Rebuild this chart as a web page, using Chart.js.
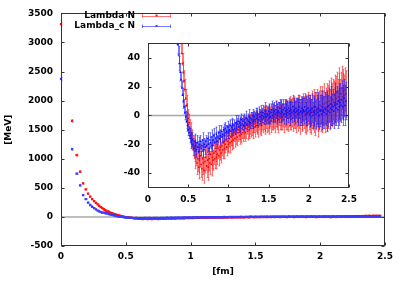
<!DOCTYPE html>
<html>
<head>
<meta charset="utf-8">
<script src="https://cdn.jsdelivr.net/npm/chart.js@4"></script>
<style>
  body { margin: 0; background: #fff; }
  #wrap { position: relative; width: 398px; height: 283px; }
  #mainChart { position: absolute; left: 0; top: 0; }
  #insetChart { position: absolute; left: 118px; top: 30px; }
</style>
</head>
<body>
<div id="wrap">
  <canvas id="mainChart" width="398" height="283"></canvas>
  <canvas id="insetChart" width="246" height="180"></canvas>
</div>
<script>
// distances in fm (shared by both series)
var rFm = [0, 0.085, 0.120, 0.147, 0.170, 0.190, 0.208, 0.225, 0.240, 0.255, 0.269, 0.282, 0.294, 0.306, 0.318, 0.330, 0.340, 0.350,
  0.36, 0.37, 0.38, 0.39, 0.40, 0.41, 0.42, 0.43, 0.44, 0.45, 0.46, 0.47, 0.48, 0.49, 0.50,
  0.51, 0.52, 0.53, 0.54, 0.55, 0.56, 0.57, 0.58, 0.59, 0.60,
  0.61, 0.62, 0.63, 0.64, 0.65, 0.66, 0.67, 0.68, 0.69, 0.70,
  0.71, 0.72, 0.73, 0.74, 0.75, 0.76, 0.77, 0.78, 0.79, 0.80,
  0.81, 0.82, 0.83, 0.84, 0.85, 0.86, 0.87, 0.88, 0.89, 0.90,
  0.91, 0.92, 0.93, 0.94, 0.95, 0.96, 0.97, 0.98, 0.99, 1.00,
  1.01, 1.02, 1.03, 1.04, 1.05, 1.06, 1.07, 1.08, 1.09, 1.10,
  1.11, 1.12, 1.13, 1.14, 1.15, 1.16, 1.17, 1.18, 1.19, 1.20,
  1.21, 1.22, 1.23, 1.24, 1.25, 1.26, 1.27, 1.28, 1.29, 1.30,
  1.31, 1.32, 1.33, 1.34, 1.35, 1.36, 1.37, 1.38, 1.39, 1.40,
  1.41, 1.42, 1.43, 1.44, 1.45, 1.46, 1.47, 1.48, 1.49, 1.50,
  1.51, 1.52, 1.53, 1.54, 1.55, 1.56, 1.57, 1.58, 1.59, 1.60,
  1.61, 1.62, 1.63, 1.64, 1.65, 1.66, 1.67, 1.68, 1.69, 1.70,
  1.71, 1.72, 1.73, 1.74, 1.75, 1.76, 1.77, 1.78, 1.79, 1.80,
  1.81, 1.82, 1.83, 1.84, 1.85, 1.86, 1.87, 1.88, 1.89, 1.90,
  1.91, 1.92, 1.93, 1.94, 1.95, 1.96, 1.97, 1.98, 1.99, 2.00,
  2.01, 2.02, 2.03, 2.04, 2.05, 2.06, 2.07, 2.08, 2.09, 2.10,
  2.11, 2.12, 2.13, 2.14, 2.15, 2.16, 2.17, 2.18, 2.19, 2.20,
  2.21, 2.22, 2.23, 2.24, 2.25, 2.26, 2.27, 2.28, 2.29, 2.30,
  2.31, 2.32, 2.33, 2.34, 2.35, 2.36, 2.37, 2.38, 2.39, 2.40,
  2.41, 2.42, 2.43, 2.44, 2.45, 2.46];

// Lambda N potential [MeV]
var lambdaN = [3315, 1651, 1063, 777, 576, 475, 400, 350, 305, 270, 240, 215, 192, 170, 150, 132, 118, 106,
  95, 85, 75, 66, 58, 50, 43, 36, 30, 24, 18, 12, 7, 2, -2,
  -5, -9, -12, -16, -17, -21, -22, -25, -29, -27,
  -33, -30, -36, -31, -28, -34, -37, -30, -33, -38,
  -32, -29, -35, -31, -36, -30, -33, -27, -34, -29,
  -31, -26, -30, -25, -29, -27, -23, -28, -24, -22,
  -26, -21, -24, -19, -23, -20, -17, -22, -18, -20,
  -16, -19, -15, -18, -14, -17, -12, -16, -13, -11,
  -15, -12, -10, -14, -11, -13, -9, -12, -10, -8,
  -12, -9, -7, -11, -8, -10, -6, -9, -7, -5,
  -9, -6, -8, -4, -7, -5, -8, -3, -6, -4,
  -7, -3, -5, -2, -6, -4, -1, -5, -3, -2,
  -5, -1, -4, -2, 0, -3, -1, -4, 1, -2,
  0, -3, 1, -1, -2, 2, -1, 0, -3, 1,
  -1, 2, 0, -2, 1, 3, -1, 0, 2, -2,
  1, 3, 0, -1, 2, 4, 0, 1, -2, 3,
  1, -1, 4, 2, 0, 3, -2, 1, 5, 2,
  0, 3, -1, 4, 2, 6, 1, -2, 3, 5,
  2, -1, 4, 7, 3, 1, 6, 4, 8, 2,
  5, 9, 3, 6, 10, 4, 8, 12, 7, 11,
  9, 14, 8, 12, 16, 10, 13, 18, 11, 15,
  19, 13, 17, 14, 18, 15];
var lambdaNErr = [30, 20, 15, 12, 10, 10, 9, 9, 8, 8, 8, 8, 8, 8, 8, 8, 8, 8,
  8, 8, 8, 8, 8, 7, 8, 7, 7, 7, 7, 6, 7, 6, 6,
  6, 6, 7, 6, 7, 7, 8, 7, 8, 8,
  8, 9, 8, 9, 8, 9, 8, 9, 8, 9,
  8, 9, 8, 8, 9, 8, 8, 7, 8, 8,
  7, 8, 7, 7, 8, 7, 7, 7, 7, 7,
  7, 7, 6, 7, 7, 6, 7, 6, 7, 6,
  6, 7, 6, 6, 7, 6, 6, 6, 7, 6,
  6, 6, 7, 6, 6, 6, 7, 6, 6, 7,
  6, 7, 6, 6, 7, 6, 7, 6, 7, 7,
  7, 6, 7, 7, 6, 7, 7, 7, 7, 7,
  7, 7, 7, 8, 7, 7, 8, 7, 8, 7,
  8, 7, 8, 8, 8, 7, 8, 8, 9, 8,
  8, 9, 8, 9, 8, 9, 9, 8, 9, 9,
  9, 9, 10, 9, 9, 10, 9, 10, 10, 9,
  10, 10, 9, 11, 10, 10, 11, 10, 11, 10,
  11, 10, 11, 11, 12, 11, 11, 12, 11, 12,
  12, 11, 12, 13, 12, 12, 13, 12, 13, 13,
  13, 14, 13, 13, 14, 13, 14, 13, 14, 14,
  14, 13, 14, 15, 14, 14, 15, 14, 15, 14,
  15, 14, 15, 15, 14, 15, 16, 15, 14, 15,
  15, 16, 15, 14, 15, 16];

// Lambda_c N potential [MeV]
var lambdaCN = [2374, 1164, 743, 542, 374, 307, 245, 205, 175, 150, 128, 110, 96, 84, 74, 72, 65, 60,
  55, 49, 42, 36, 30, 25, 19, 14, 10, 6, 2, -1, -4, -7, -10,
  -12, -14, -16, -18, -17, -20, -23, -18, -21, -24,
  -19, -22, -25, -20, -18, -23, -21, -17, -24, -20,
  -22, -18, -21, -16, -20, -23, -17, -19, -15, -21,
  -17, -14, -19, -16, -13, -18, -15, -12, -16, -14,
  -11, -15, -13, -10, -14, -9, -12, -11, -8, -12,
  -10, -7, -11, -8, -6, -10, -7, -9, -5, -8,
  -6, -4, -8, -5, -7, -3, -6, -4, -7, -3,
  -5, -2, -6, -3, -4, -1, -5, -2, -3, 0,
  -4, -1, -3, 1, -2, 0, -3, 1, -1, 2,
  -2, 0, 2, -1, 1, 3, -1, 1, 0, 3,
  1, -1, 2, 4, 0, 2, 3, 1, 4, 2,
  0, 3, 2, 5, 1, 3, 2, 4, 1, 5,
  3, 1, 4, 2, 5, 3, 1, 4, 2, 6,
  3, 4, 2, 5, 3, 1, 4, 6, 2, 3,
  5, 2, 4, 3, 6, 1, 4, 2, 5, 3,
  1, 4, 2, 5, 0, 3, 2, 6, 1, 4,
  2, 5, 0, 3, 4, 1, 6, 3, 2, 5,
  4, 1, 6, 3, 7, 2, 5, 8, 4, 6,
  3, 7, 9, 5, 8, 4, 10, 6, 9, 7,
  11, 6, 9, 12, 7, 10];
var lambdaCNErr = [25, 15, 12, 10, 9, 8, 8, 7, 7, 7, 6, 6, 6, 6, 6, 6, 6, 6,
  6, 6, 6, 5, 6, 5, 5, 5, 5, 5, 5, 4, 5, 4, 4,
  4, 5, 4, 5, 5, 4, 5, 5, 4, 5,
  5, 4, 5, 5, 4, 5, 4, 5, 5, 4,
  5, 4, 5, 4, 5, 4, 5, 4, 5, 4,
  4, 5, 4, 4, 5, 4, 4, 5, 4, 4,
  4, 4, 5, 4, 4, 4, 5, 4, 4, 4,
  4, 4, 4, 5, 4, 4, 4, 4, 5, 4,
  4, 4, 4, 4, 5, 4, 4, 4, 4, 4,
  4, 5, 4, 4, 4, 5, 4, 4, 5, 4,
  5, 4, 5, 4, 5, 5, 4, 5, 5, 5,
  5, 5, 5, 5, 5, 6, 5, 5, 6, 5,
  6, 5, 6, 6, 5, 6, 6, 6, 6, 6,
  6, 6, 7, 6, 6, 7, 6, 7, 7, 6,
  7, 7, 6, 7, 7, 7, 8, 7, 7, 8,
  7, 8, 8, 7, 8, 8, 8, 8, 9, 8,
  8, 9, 8, 9, 9, 8, 9, 9, 9, 9,
  9, 10, 9, 10, 9, 10, 10, 10, 10, 10,
  10, 11, 10, 11, 10, 11, 11, 10, 11, 11,
  11, 12, 11, 11, 12, 11, 12, 12, 11, 12,
  12, 12, 13, 12, 12, 13, 12, 13, 13, 12,
  13, 13, 12, 13, 14, 13];

var seriesLabels = ['Lambda N', 'Lambda_c N'];
var xTicks = [0, 0.5, 1, 1.5, 2, 2.5];
var mainYTicks = [-500, 0, 500, 1000, 1500, 2000, 2500, 3000, 3500];
var insetYTicks = [-40, -20, 0, 20, 40];

var tickFont = { family: 'DejaVu Sans', size: 9, weight: 'bold' };

function toPoints(vals, errs) {
  return rFm.map(function (r, i) {
    return { x: r, y: vals[i], err: errs[i] };
  });
}

function setTicks(list) {
  return function (scale) {
    scale.ticks = list.map(function (v) { return { value: v }; });
  };
}

function plainLabel(v) { return String(v); }

// vertical error bars, drawn just before each dataset's points
var errorBars = {
  id: 'errorBars',
  beforeDatasetDraw: function (chart, args) {
    var ds = chart.data.datasets[args.index];
    var xs = chart.scales.x, ys = chart.scales.y;
    var a = chart.chartArea, ctx = chart.ctx;
    ctx.save();
    ctx.beginPath();
    ctx.rect(a.left, a.top, a.right - a.left, a.bottom - a.top);
    ctx.clip();
    ctx.strokeStyle = ds.errColor;
    ctx.lineWidth = 1;
    ctx.beginPath();
    ds.data.forEach(function (p) {
      var x = Math.round(xs.getPixelForValue(p.x)) + 0.5;
      var y1 = ys.getPixelForValue(p.y - p.err);
      var y2 = ys.getPixelForValue(p.y + p.err);
      ctx.moveTo(x, y1); ctx.lineTo(x, y2);
      ctx.moveTo(x - 1, y1); ctx.lineTo(x + 1, y1);
      ctx.moveTo(x - 1, y2); ctx.lineTo(x + 1, y2);
    });
    ctx.stroke();
    ctx.restore();
  }
};

// gray line at V = 0
var zeroLine = {
  id: 'zeroLine',
  beforeDatasetsDraw: function (chart) {
    var a = chart.chartArea, ctx = chart.ctx;
    var y = chart.scales.y.getPixelForValue(0);
    ctx.save();
    ctx.strokeStyle = '#a8a8a8';
    ctx.lineWidth = 1.5;
    ctx.beginPath();
    ctx.moveTo(a.left, y); ctx.lineTo(a.right, y);
    ctx.stroke();
    ctx.restore();
  }
};

// box border with inward ticks on all four sides (gnuplot look)
var frame = {
  id: 'frame',
  afterDraw: function (chart) {
    var a = chart.chartArea, ctx = chart.ctx;
    var len = chart.options.plugins.frame.tick;
    var l = Math.round(a.left) + 0.5, r = Math.round(a.right) - 0.5;
    var t = Math.round(a.top) + 0.5, b = Math.round(a.bottom) - 0.5;
    ctx.save();
    ctx.strokeStyle = '#333';
    ctx.lineWidth = 1;
    ctx.strokeRect(l, t, r - l, b - t);
    ctx.beginPath();
    chart.scales.x.ticks.forEach(function (tk) {
      var x = Math.round(chart.scales.x.getPixelForValue(tk.value)) + 0.5;
      ctx.moveTo(x, b); ctx.lineTo(x, b - len);
      ctx.moveTo(x, t); ctx.lineTo(x, t + len);
    });
    chart.scales.y.ticks.forEach(function (tk) {
      var y = Math.round(chart.scales.y.getPixelForValue(tk.value)) + 0.5;
      ctx.moveTo(l, y); ctx.lineTo(l + len, y);
      ctx.moveTo(r, y); ctx.lineTo(r - len, y);
    });
    ctx.stroke();
    ctx.restore();
  }
};

// key in the upper right, text right aligned with a sample line after it
var keyBox = {
  id: 'keyBox',
  afterDraw: function (chart) {
    var o = chart.options.plugins.keyBox;
    if (!o.show) return;
    var ctx = chart.ctx;
    ctx.save();
    ctx.font = 'bold 9px "DejaVu Sans"';
    ctx.textAlign = 'right';
    ctx.textBaseline = 'middle';
    chart.data.datasets.forEach(function (ds, i) {
      var y = o.y + i * 10.5;
      ctx.fillStyle = '#000';
      ctx.fillText(ds.label, o.x, y);
      ctx.strokeStyle = ds.errColor;
      ctx.lineWidth = 1;
      ctx.beginPath();
      ctx.moveTo(o.x + 7, Math.round(y) + 0.5); ctx.lineTo(o.x + 36, Math.round(y) + 0.5);
      ctx.moveTo(o.x + 7.5, y - 1.5); ctx.lineTo(o.x + 7.5, y + 2);
      ctx.moveTo(o.x + 35.5, y - 1.5); ctx.lineTo(o.x + 35.5, y + 2);
      ctx.stroke();
      ctx.fillStyle = ds.backgroundColor;
      ctx.fillRect(o.x + 20.5, y - 1, 2, 2);
    });
    ctx.restore();
  }
};

function makeDatasets(radius, redPt, bluePt, clip) {
  return [
    { label: seriesLabels[0], data: toPoints(lambdaN, lambdaNErr), order: 2, clip: clip,
      backgroundColor: redPt, borderWidth: 0, pointStyle: 'rect', pointRadius: radius,
      errColor: 'rgba(255,30,30,0.6)', showLine: false },
    { label: seriesLabels[1], data: toPoints(lambdaCN, lambdaCNErr), order: 1, clip: clip,
      backgroundColor: bluePt, borderWidth: 0, pointStyle: 'rect', pointRadius: radius,
      errColor: 'rgba(30,30,255,0.6)', showLine: false }
  ];
}

Chart.defaults.font.family = 'DejaVu Sans';
Chart.defaults.color = '#000';

var mainChart = new Chart(document.getElementById('mainChart'), {
  type: 'scatter',
  data: { datasets: makeDatasets(1.6, '#ff1010', '#3c3cff', 4) },
  options: {
    responsive: false,
    animation: false,
    events: [],
    layout: { padding: { top: 8, right: 12, left: 0, bottom: 0 } },
    plugins: {
      legend: { display: false },
      tooltip: { enabled: false },
      frame: { tick: 3 },
      keyBox: { show: true, x: 135, y: 15.5 }
    },
    scales: {
      x: {
        type: 'linear', min: 0, max: 2.5,
        afterBuildTicks: setTicks(xTicks),
        afterFit: function (s) { s.height = 37; },
        grid: { display: false, drawTicks: false },
        border: { display: false },
        ticks: { font: tickFont, padding: 5, maxRotation: 0, callback: plainLabel },
        title: { display: true, text: '[fm]', font: tickFont, padding: { top: 0, bottom: 6 } }
      },
      y: {
        type: 'linear', min: -500, max: 3500,
        afterBuildTicks: setTicks(mainYTicks),
        afterFit: function (s) { s.width = 61; },
        grid: { display: false, drawTicks: false },
        border: { display: false },
        ticks: { font: tickFont, padding: 8, callback: plainLabel },
        title: { display: true, text: '[MeV]', font: tickFont, padding: { top: 3, bottom: 0 } }
      }
    }
  },
  plugins: [zeroLine, errorBars, frame, keyBox]
});

var insetChart = new Chart(document.getElementById('insetChart'), {
  type: 'scatter',
  data: { datasets: makeDatasets(1.1, '#ff0000', '#1010ff', 0) },
  options: {
    responsive: false,
    animation: false,
    events: [],
    layout: { padding: { top: 7.5, right: 10.5, left: 0, bottom: 0 } },
    plugins: {
      legend: { display: false },
      tooltip: { enabled: false },
      frame: { tick: 3 },
      keyBox: { show: false }
    },
    scales: {
      x: {
        type: 'linear', min: 0, max: 2.5,
        afterBuildTicks: setTicks(xTicks),
        afterFit: function (s) { s.height = 22.5; },
        grid: { display: false, drawTicks: false },
        border: { display: false },
        ticks: { font: tickFont, padding: 7, maxRotation: 0, callback: plainLabel }
      },
      y: {
        type: 'linear', min: -50, max: 50,
        afterBuildTicks: setTicks(insetYTicks),
        afterFit: function (s) { s.width = 30; },
        grid: { display: false, drawTicks: false },
        border: { display: false },
        ticks: { font: tickFont, padding: 8, callback: plainLabel }
      }
    }
  },
  plugins: [zeroLine, errorBars, frame]
});
</script>
</body>
</html>
